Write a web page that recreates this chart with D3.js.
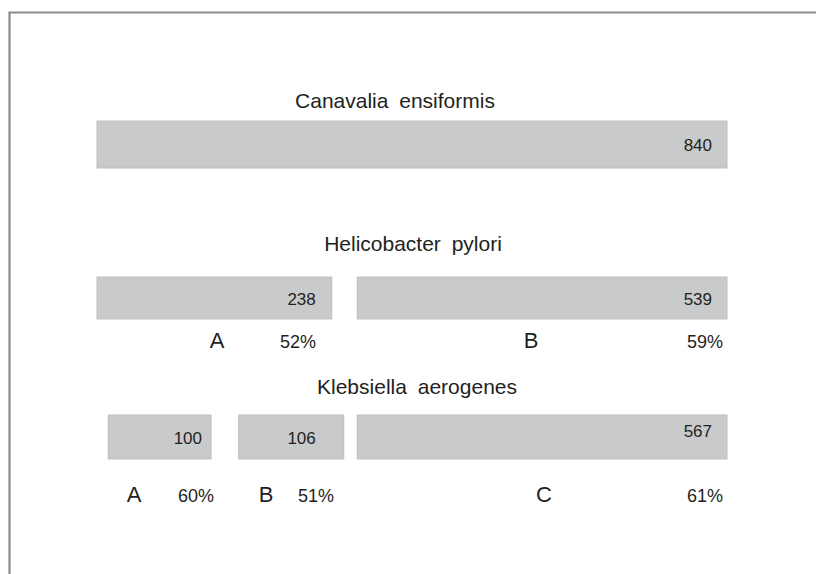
<!DOCTYPE html>
<html><head><meta charset="utf-8">
<script src="https://cdn.jsdelivr.net/npm/d3@7"></script>
<style>
html,body{margin:0;padding:0;background:#fff;}
svg{display:block;}
text{font-family:"Liberation Sans Narrow","Liberation Sans",Arial,sans-serif;fill:#231f20;}
</style></head>
<body>
<svg id="chart" width="816" height="574"></svg>
<script>
// ---- data ----
const organisms = ["Canavalia ensiformis", "Helicobacter pylori", "Klebsiella aerogenes"];
// each subunit: organism index, subunit letter, residue count, % identity,
// aligned span along the Canavalia (840 aa) reference sequence
const segOrganism = [0, 1, 1, 2, 2, 2];
const segLetter   = ["", "A", "B", "A", "B", "C"];
const segResidues = [840, 238, 539, 100, 106, 567];
const segIdentity = [null, 52, 59, 60, 51, 61];
const segStart    = [0, 0, 347, 15, 189, 347];
const segEnd      = [840, 313, 840, 152, 329, 840];
const referenceLength = 840;

// ---- layout ----
const svg = d3.select("#chart");
const x = d3.scaleLinear().domain([0, referenceLength]).range([97, 727]);
const rowTop = d3.scaleOrdinal().domain(organisms).range([121, 277, 415]);
const rowH = d3.scaleOrdinal().domain(organisms).range([47, 42, 44]);
const titleY = d3.scaleOrdinal().domain(organisms).range([100, 243, 386]);
const titleX = d3.scaleOrdinal().domain(organisms).range([395, 413, 417]);
const subGap = d3.scaleOrdinal().domain(organisms).range([0, 21, 35]);
const valueInset = [15, 16, 15, 9, 28, 15];
const letterX = [null, 217, 531, 134, 266, 544];
const pctRight = [null, 316, 723, 214, 334, 723];

// frame
svg.append("path")
  .attr("d", "M9.5,574 L9.5,12.5 L816,12.5")
  .attr("fill", "none").attr("stroke", "#8a8a8a").attr("stroke-width", 2.2);

// titles
svg.selectAll("text.title").data(organisms).join("text")
  .attr("class", "title")
  .attr("x", d => titleX(d)).attr("y", d => titleY(d))
  .attr("text-anchor", "middle").attr("dominant-baseline", "central")
  .style("font-size", "21px").style("word-spacing", "5px")
  .text(d => d);

const segs = segOrganism.map((o, i) => ({
  org: organisms[o], letter: segLetter[i], n: segResidues[i],
  pct: segIdentity[i], s: segStart[i], e: segEnd[i], i
}));

// bars
svg.selectAll("rect.bar").data(segs).join("rect")
  .attr("class", "bar")
  .attr("x", d => x(d.s)).attr("width", d => x(d.e) - x(d.s))
  .attr("y", d => rowTop(d.org)).attr("height", d => rowH(d.org))
  .attr("fill", "#c9cacc").attr("stroke", "#bdbec0").attr("stroke-width", 1);

// residue counts
svg.selectAll("text.val").data(segs).join("text")
  .attr("class", "val")
  .attr("x", d => x(d.e) - valueInset[d.i])
  .attr("y", d => rowTop(d.org) + rowH(d.org) / 2 + (d.i === 5 ? -6 : 1))
  .attr("text-anchor", "end").attr("dominant-baseline", "central")
  .style("font-size", "17px")
  .text(d => d.n);

const sub = segs.filter(d => d.letter !== "");
// subunit letters
svg.selectAll("text.letter").data(sub).join("text")
  .attr("class", "letter")
  .attr("x", d => letterX[d.i])
  .attr("y", d => rowTop(d.org) + rowH(d.org) + subGap(d.org))
  .attr("text-anchor", "middle").attr("dominant-baseline", "central")
  .style("font-size", "22px")
  .text(d => d.letter);
// identity percentages
svg.selectAll("text.pct").data(sub).join("text")
  .attr("class", "pct")
  .attr("x", d => pctRight[d.i])
  .attr("y", d => rowTop(d.org) + rowH(d.org) + subGap(d.org) + 2)
  .attr("text-anchor", "end").attr("dominant-baseline", "central")
  .style("font-size", "18px")
  .text(d => d.pct + "%");
</script>
</body></html>
